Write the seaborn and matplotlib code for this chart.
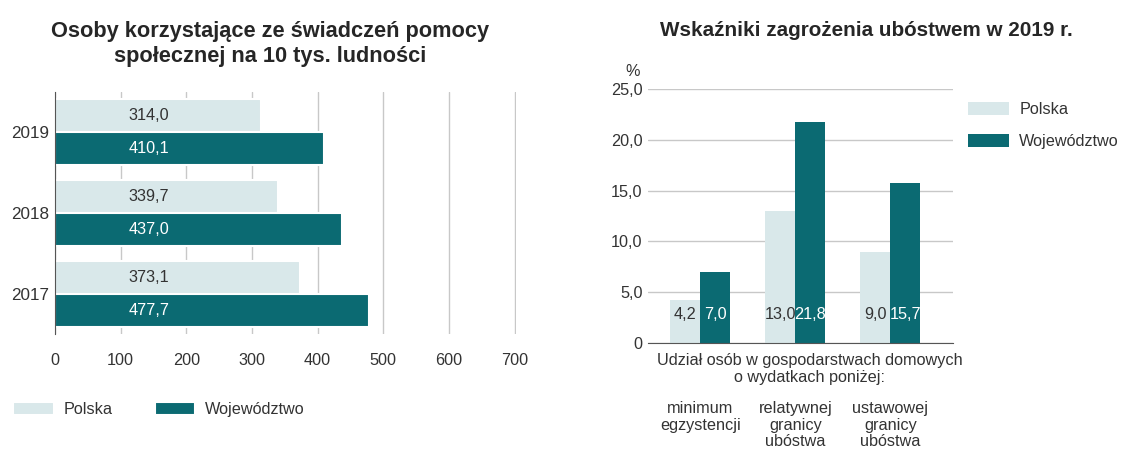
import pandas as pd
import numpy as np
import matplotlib.pyplot as plt
import seaborn as sns

# data
years = ['2019', '2018', '2017']
polska_pomoc = [314.0, 339.7, 373.1]
woj_pomoc = [410.1, 437.0, 477.7]

kategorie = ['minimum\negzystencji', 'relatywnej\ngranicy\nubóstwa', 'ustawowej\ngranicy\nubóstwa']
polska_ubostwo = [4.2, 13.0, 9.0]
woj_ubostwo = [7.0, 21.8, 15.7]

serie = ['Polska', 'Województwo']
kolory = ['#d9e8ea', '#0b6a72']
szary = '#333333'

sns.set_style('white')
plt.rcParams['font.family'] = ['Liberation Sans', 'DejaVu Sans']

def fmt(v):
    return f'{v:.1f}'.replace('.', ',')

left_df = pd.DataFrame({
    'rok': years * 2,
    'wartosc': polska_pomoc + woj_pomoc,
    'seria': [serie[0]] * 3 + [serie[1]] * 3,
})
right_df = pd.DataFrame({
    'kat': kategorie * 2,
    'wartosc': polska_ubostwo + woj_ubostwo,
    'seria': [serie[0]] * 3 + [serie[1]] * 3,
})

fig = plt.figure(figsize=(11.34, 4.49), dpi=100)
W, H = 1134, 449

# ---- left chart: horizontal bars
ax1 = fig.add_axes([55 / W, 1 - 334 / H, 461 / W, 242 / H])
sns.barplot(data=left_df, y='rok', x='wartosc', hue='seria', order=years,
            hue_order=serie, palette=kolory, orient='h', width=0.82,
            saturation=1, edgecolor='white', linewidth=1.5, ax=ax1)
h1, l1 = ax1.get_legend_handles_labels()
ax1.legend_.remove()
ax1.set_xlim(0, 702)
ax1.set_ylim(2.5, -0.5)
ax1.set_xticks(range(0, 701, 100))
ax1.xaxis.grid(True, color='#c8c8c8', linewidth=1)
ax1.set_axisbelow(True)
for s in ['top', 'right', 'bottom']:
    ax1.spines[s].set_visible(False)
ax1.spines['left'].set_color('#555555')
ax1.tick_params(axis='x', length=0, pad=14, labelsize=11.7, labelcolor=szary)
ax1.tick_params(axis='y', length=0, pad=4, labelsize=12.3, labelcolor=szary)
ax1.set_xlabel('')
ax1.set_ylabel('')
for cont, col in zip(ax1.containers, [szary, 'white']):
    for bar in cont:
        yc = bar.get_y() + bar.get_height() / 2
        ax1.text(143, yc, fmt(bar.get_width()), ha='center', va='center',
                 color=col, fontsize=11.7)

fig.text(270 / W, 1 - 44 / H, 'Osoby korzystające ze świadczeń pomocy\nspołecznej na 10 tys. ludności',
         ha='center', va='center', fontsize=15.7, fontweight='bold', color='#262626',
         linespacing=1.2)
fig.legend(h1, l1, loc='upper left', bbox_to_anchor=(13 / W, 1 - 402 / H), ncol=2,
           frameon=False, fontsize=11.7, handlelength=2.5, handleheight=0.8,
           handletextpad=0.6, columnspacing=2.6, borderaxespad=0, borderpad=0,
           labelcolor=szary)

# ---- right chart: vertical bars
ax2 = fig.add_axes([648 / W, 1 - 343 / H, 305 / W, 254 / H])
sns.barplot(data=right_df, x='kat', y='wartosc', hue='seria', order=kategorie,
            hue_order=serie, palette=kolory, width=0.63, saturation=1,
            linewidth=0, ax=ax2)
h2, l2 = ax2.get_legend_handles_labels()
ax2.legend_.remove()
ax2.set_ylim(0, 25)
ax2.set_xlim(-0.55, 2.66)
ax2.set_yticks(range(0, 26, 5))
ax2.set_yticklabels(['0'] + [fmt(v) for v in range(5, 26, 5)])
ax2.yaxis.grid(True, color='#c8c8c8', linewidth=1)
ax2.set_axisbelow(True)
for s in ['top', 'right', 'left']:
    ax2.spines[s].set_visible(False)
ax2.spines['bottom'].set_color('#555555')
ax2.tick_params(axis='y', length=0, pad=4, labelsize=11.7, labelcolor=szary)
ax2.tick_params(axis='x', length=0, pad=42, labelsize=11.7, labelcolor=szary)
for lab in ax2.get_xticklabels():
    lab.set_linespacing(1.1)
ax2.set_xlabel('')
ax2.set_ylabel('')
for cont, col in zip(ax2.containers, [szary, 'white']):
    for bar in cont:
        xc = bar.get_x() + bar.get_width() / 2
        ax2.text(xc, 2.8, fmt(bar.get_height()), ha='center', va='center',
                 color=col, fontsize=11.7)

fig.text(633 / W, 1 - 72 / H, '%', ha='center', va='center', fontsize=11.7, color=szary)
fig.text(810 / W, 1 - 369 / H, 'Udział osób w gospodarstwach domowych\no wydatkach poniżej:',
         ha='center', va='center', fontsize=11.7, color=szary, linespacing=1.15)
fig.text(866 / W, 1 - 30 / H, 'Wskaźniki zagrożenia ubóstwem w 2019 r.',
         ha='center', va='center', fontsize=14.9, fontweight='bold', color='#262626')
fig.legend(h2, l2, loc='upper left', bbox_to_anchor=(968 / W, 1 - 102 / H), ncol=1,
           frameon=False, fontsize=11.7, handlelength=2.5, handleheight=0.9,
           handletextpad=0.65, labelspacing=1.0, borderaxespad=0, borderpad=0,
           labelcolor=szary)

fig.savefig('out.png', dpi=100)
